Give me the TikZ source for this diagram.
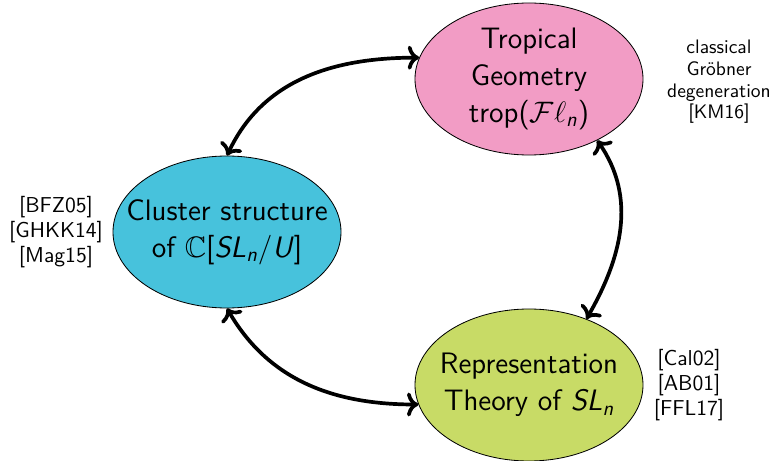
\documentclass[tikz,border=0pt]{standalone}
\usepackage{amsmath,amssymb}
\usepackage{xcolor,tikz}
\usetikzlibrary{arrows.meta,positioning,shapes.geometric,calc}
\definecolor{tropink}{RGB}{242,156,197}
\definecolor{clucyan}{RGB}{71,194,220}
\definecolor{repgreen}{RGB}{200,219,102}
\newcommand{\SLn}{\textit{SL}$_{\textit{n}}$}
\begin{document}
\begin{tikzpicture}[x=0.0171cm,y=-0.0171cm,font=\sffamily,
  blob/.style={ellipse,draw=black,thin,minimum width=3.9cm,minimum height=2.6cm,inner xsep=-12pt,inner ysep=-10pt,align=center,font=\sffamily\Large},
  refs/.style={align=center,font=\sffamily\fontsize{10.5}{12}\selectfont,inner sep=0pt},
  link/.style={<->,line width=1.8pt}]
\useasboundingbox (0,0) rectangle (773,461);
\node[blob,fill=tropink] (trop) at (529,79){Tropical\\Geometry\\trop($\mathcal{F}\ell_{\textit{n}}$)};
\node[blob,fill=clucyan] (clu) at (227,232){Cluster structure\\of $\mathbb{C}$[\SLn/\textit{U}]};
\node[blob,fill=repgreen] (rep) at (529,385){Representation\\Theory of \SLn};
\node[refs,font=\sffamily\fontsize{9.5}{10.5}\selectfont] (km) at (719,82){classical\\Gröbner\\degeneration\\{}[KM16]};
\node[refs] (bfz) at (56,232){[BFZ05]\\{}[GHKK14]\\{}[Mag15]};
\node[refs] (cal) at (689,385){[Cal02]\\{}[AB01]\\{}[FFL17]};
\draw[link] (clu.north) to[out=65,in=180] (trop.169);
\draw[link] (trop.-42) to[out=-55,in=60] (rep.49);
\draw[link] (clu.south) to[out=-60,in=180] (rep.190);
\end{tikzpicture}
\end{document}
